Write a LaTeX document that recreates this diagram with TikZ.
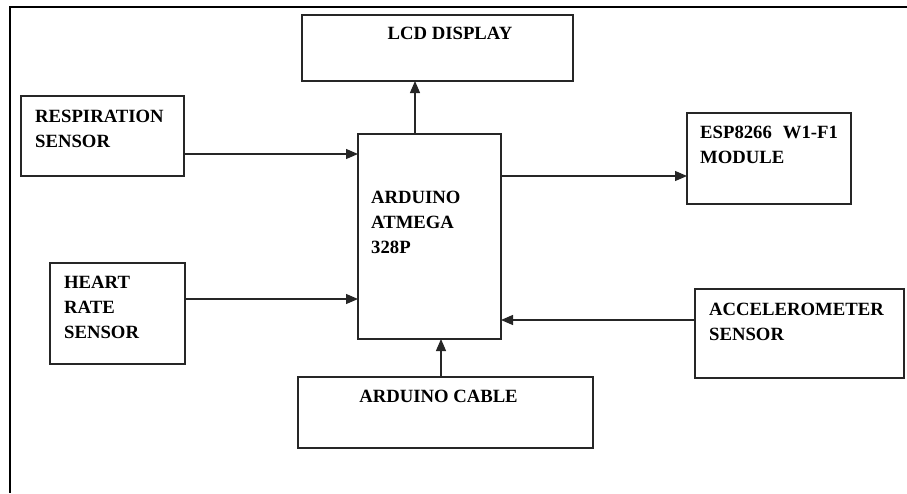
\documentclass[tikz,border=0pt]{standalone}
\usepackage{fontspec}
\setmainfont{Liberation Serif}
\usetikzlibrary{arrows.meta}
\tikzset{
  box/.style={draw=black!85, line width=1.3pt, rectangle, inner sep=0pt, outer sep=0pt},
  lbl/.style={anchor=base west, inner sep=0pt, font=\fontsize{18.7}{22}\selectfont\bfseries},
  clbl/.style={anchor=base, inner sep=0pt, font=\fontsize{18.7}{22}\selectfont\bfseries},
  arr/.style={draw=black!85, line width=1.2pt, -{Triangle[length=12pt,width=10pt]}}
}
\begin{document}
\begin{tikzpicture}[x=1pt,y=-1pt]
\useasboundingbox (0,0) rectangle (907,493);
% outer frame
\draw[line width=2pt] (907,7) -- (10,7) -- (10,493);
% boxes
\node[box, minimum width=163pt, minimum height=80pt] (resp) at (102.5,136) {};
\node[box, minimum width=271pt, minimum height=66pt] (lcd) at (437.5,48) {};
\node[box, minimum width=143pt, minimum height=205pt] (ard) at (429.5,236.5) {};
\node[box, minimum width=164pt, minimum height=91pt] (esp) at (769,158.5) {};
\node[box, minimum width=135pt, minimum height=101pt] (heart) at (117.5,313.5) {};
\node[box, minimum width=209pt, minimum height=89pt] (acc) at (799.5,333.5) {};
\node[box, minimum width=295pt, minimum height=71pt] (cable) at (445.5,412.5) {};
% labels
\node[lbl] (t1) at (35,122) {RESPIRATION};
\node[lbl] (t2) at (35,147) {SENSOR};
\node[clbl] (t3) at (450,39) {LCD DISPLAY};
\node[lbl] (t4) at (371,203) {ARDUINO};
\node[lbl] (t5) at (371,228) {ATMEGA};
\node[lbl] (t6) at (371,253) {328P};
\node[lbl] (t7) at (700,138) {ESP8266\hspace{11pt}W1-F1};
\node[lbl] (t8) at (700,163) {MODULE};
\node[lbl] (t9) at (64,288) {HEART};
\node[lbl] (t10) at (64,313) {RATE};
\node[lbl] (t11) at (64,338) {SENSOR};
\node[lbl] (t12) at (709,315) {ACCELEROMETER};
\node[lbl] (t13) at (709,340) {SENSOR};
\node[clbl] (t14) at (438.5,402) {ARDUINO CABLE};
% connectors
\draw[arr] ([yshift=-18pt]resp.east) -- ([yshift=-18pt]resp.east -| ard.west);
\draw[arr] ([yshift=14.5pt]heart.east) -- ([yshift=14.5pt]heart.east -| ard.west);
\draw[arr] ([xshift=-14.5pt]ard.north) -- ([xshift=-14.5pt]ard.north |- lcd.south);
\draw[arr] ([yshift=-17.5pt]esp.west -| ard.east) -- ([yshift=-17.5pt]esp.west);
\draw[arr] ([yshift=13.5pt]acc.west) -- ([yshift=13.5pt]acc.west -| ard.east);
\draw[arr] ([xshift=-4.5pt]cable.north) -- ([xshift=-4.5pt]cable.north |- ard.south);
\end{tikzpicture}
\end{document}
